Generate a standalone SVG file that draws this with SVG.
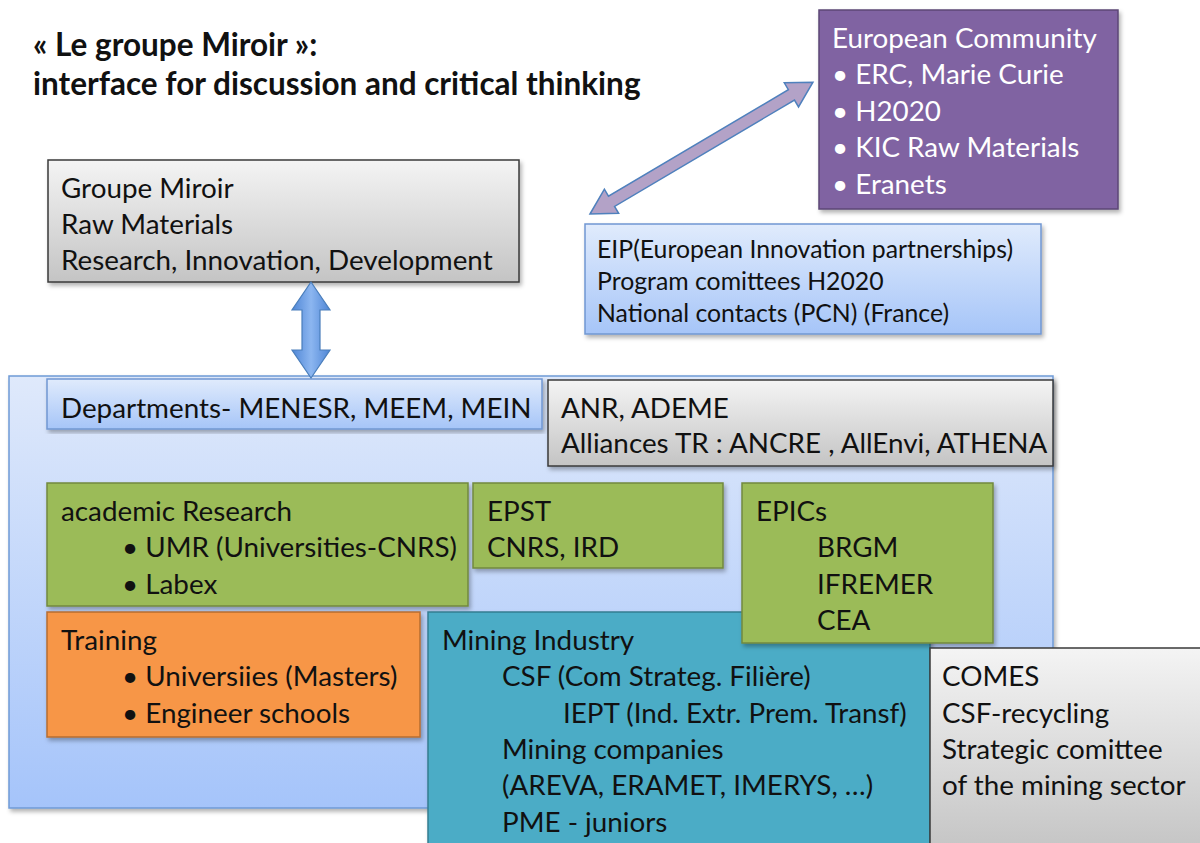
<svg xmlns="http://www.w3.org/2000/svg" width="1200" height="843" viewBox="0 0 1200 843">
<defs>
<linearGradient id="gGray" x1="0" y1="0" x2="0" y2="1"><stop offset="0" stop-color="#f4f4f4"/><stop offset="1" stop-color="#c4c4c4"/></linearGradient>
<linearGradient id="gBlue" x1="0" y1="0" x2="0" y2="1"><stop offset="0" stop-color="#e0ebfc"/><stop offset="1" stop-color="#a6c5f8"/></linearGradient>
<linearGradient id="gCont" x1="0" y1="0" x2="0" y2="1"><stop offset="0" stop-color="#dfe9fb"/><stop offset="1" stop-color="#a5c4fa"/></linearGradient>
<linearGradient id="gArrow" x1="0" y1="0" x2="1" y2="0"><stop offset="0" stop-color="#4f86d6"/><stop offset="0.5" stop-color="#8cb6f0"/><stop offset="1" stop-color="#4f86d6"/></linearGradient>
<filter id="sh" x="-5%" y="-5%" width="110%" height="115%"><feDropShadow dx="2" dy="3" stdDeviation="2" flood-color="#000" flood-opacity="0.3"/></filter>
</defs>
<style>
text{font-family:Lato,"Open Sans","Liberation Sans",sans-serif;font-size:27.8px;fill:#111}
.title{font-weight:700;font-size:31.5px}
.w{fill:#ffffff}
.sm{font-size:24.8px}
.gray{fill:url(#gGray);stroke:#3a3a3a;stroke-width:1.5}
.lblue{fill:url(#gBlue);stroke:#7097d2;stroke-width:1.5}
.green{fill:#9bbb59;stroke:#71893f;stroke-width:1.5}
.orange{fill:#f79646;stroke:#b66d31;stroke-width:1.5}
.teal{fill:#4bacc6;stroke:#357d91;stroke-width:1.5}
.purple{fill:#8064a2;stroke:#5c4776;stroke-width:1.5}
</style>
<rect width="1200" height="843" fill="#ffffff"/>
<g id="title">
<text class="title" x="33" y="56">« Le groupe Miroir »:</text>
<text class="title" x="33" y="95">interface for discussion and critical thinking</text>
</g>
<g id="container">
<rect x="9" y="376" width="1044" height="432" fill="url(#gCont)" stroke="#6f9ad6" stroke-width="1.5" filter="url(#sh)"/>
</g>
<g id="european-community">
<rect class="purple" x="819" y="10" width="299" height="199" filter="url(#sh)"/>
<text class="w" x="832" y="48">European Community</text>
<text class="w" x="832" y="84">• ERC, Marie Curie</text>
<text class="w" x="832" y="121">• H2020</text>
<text class="w" x="832" y="157">• KIC Raw Materials</text>
<text class="w" x="832" y="194">• Eranets</text>
</g>
<g id="groupe-miroir">
<rect class="gray" x="48" y="160" width="471" height="122" filter="url(#sh)"/>
<text x="61" y="198">Groupe Miroir</text>
<text x="61" y="234">Raw Materials</text>
<text x="61" y="270">Research, Innovation, Development</text>
</g>
<g id="eip">
<rect class="lblue" x="585" y="224" width="456" height="110" filter="url(#sh)"/>
<text class="sm" x="597" y="258">EIP(European Innovation partnerships)</text>
<text class="sm" x="597" y="290">Program comittees H2020</text>
<text class="sm" x="597" y="322">National contacts (PCN) (France)</text>
</g>
<g id="departments">
<rect class="lblue" x="47" y="379" width="495" height="50" filter="url(#sh)"/>
<text x="61" y="418">Departments- MENESR, MEEM, MEIN</text>
</g>
<g id="anr">
<rect class="gray" x="548" y="380" width="505" height="86" filter="url(#sh)"/>
<text x="561" y="418">ANR, ADEME</text>
<text x="561" y="453">Alliances TR : ANCRE , AllEnvi, ATHENA</text>
</g>
<g id="academic">
<rect class="green" x="47" y="483" width="421" height="123" filter="url(#sh)"/>
<text x="61" y="521">academic Research</text>
<text x="122" y="557">• UMR (Universities-CNRS)</text>
<text x="122" y="594">• Labex</text>
</g>
<g id="epst">
<rect class="green" x="473" y="483" width="250" height="85" filter="url(#sh)"/>
<text x="487" y="521">EPST</text>
<text x="487" y="557">CNRS, IRD</text>
</g>
<g id="training">
<rect class="orange" x="47" y="612" width="373" height="125" filter="url(#sh)"/>
<text x="61" y="650">Training</text>
<text x="122" y="686">• Universiies (Masters)</text>
<text x="122" y="723">• Engineer schools</text>
</g>
<g id="mining">
<rect class="teal" x="428" y="612" width="502" height="240" filter="url(#sh)"/>
<text x="442" y="650">Mining Industry</text>
<text x="502" y="686">CSF (Com Strateg. Filière)</text>
<text x="563" y="723">IEPT (Ind. Extr. Prem. Transf)</text>
<text x="502" y="759">Mining companies</text>
<text x="502" y="795">(AREVA, ERAMET, IMERYS, …)</text>
<text x="502" y="832">PME - juniors</text>
</g>
<g id="epics">
<rect class="green" x="742" y="483" width="251" height="160" filter="url(#sh)"/>
<text x="756" y="521">EPICs</text>
<text x="817" y="557">BRGM</text>
<text x="817" y="594">IFREMER</text>
<text x="817" y="630">CEA</text>
</g>
<g id="comes">
<rect class="gray" x="930" y="648" width="280" height="205"/>
<text x="942" y="686">COMES</text>
<text x="942" y="723">CSF-recycling</text>
<text x="942" y="759">Strategic comittee</text>
<text x="942" y="795">of the mining sector</text>
</g>
<g id="connectors">
<polygon points="311,282 330,310 320,310 320,350 330,350 311,378 292,350 302,350 302,310 292,310" fill="url(#gArrow)" stroke="#4a7ebb" stroke-width="1.2"/>
<g transform="translate(590,214) rotate(-30.6)">
<polygon points="0,0 25,-14 25,-6 234,-6 234,-14 259,0 234,14 234,6 25,6 25,14" fill="#b3a2c7" stroke="#4f81bd" stroke-width="1.5"/>
</g>
</g>
</svg>
